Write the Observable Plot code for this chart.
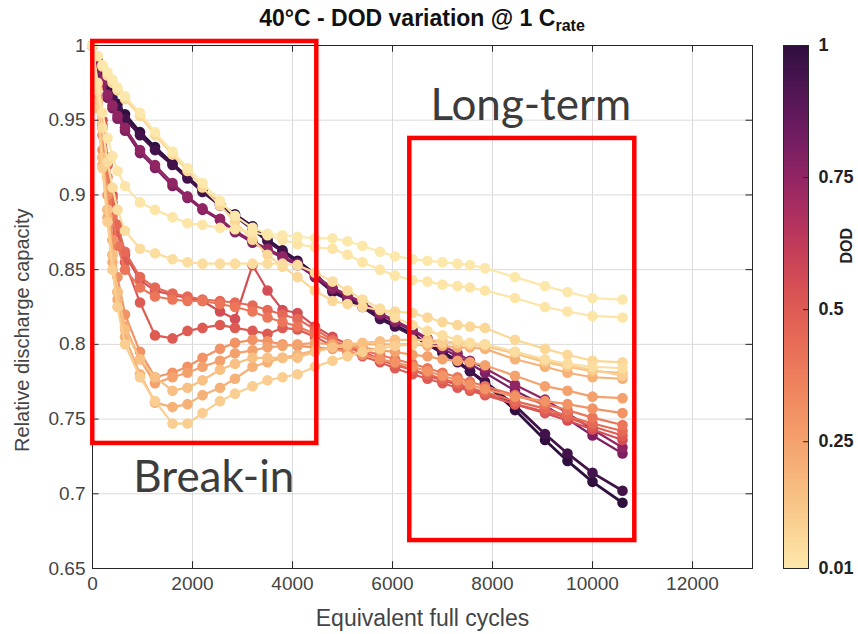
<!DOCTYPE html>
<html><head><meta charset="utf-8">
<script src="https://cdn.jsdelivr.net/npm/d3@7"></script>
<script src="https://cdn.jsdelivr.net/npm/@observablehq/plot@0.6"></script>
<style>
body{margin:0;background:#fff;}
#wrap{position:relative;width:858px;height:634px;overflow:hidden;background:#fff;font-family:"Liberation Sans",Arial,sans-serif;}
#title{position:absolute;left:92px;width:660px;top:5px;text-align:center;font-weight:bold;font-size:23px;color:#111;white-space:nowrap;}
#title sub{font-size:16px;vertical-align:-5px;line-height:0;}
#main{position:absolute;left:0;top:0;}
#cbar{position:absolute;left:770px;top:0;}
</style></head><body>
<div id="wrap">
<div id="main"></div>
<div id="cbar"></div>
<div id="title">40°C - DOD variation @ 1 C<sub>rate</sub></div>
</div>
<script>
// ---- data ----
const efc = [0, 100, 200, 300, 400, 500, 650, 950, 1250, 1600, 1900, 2200, 2550, 2850, 3200, 3500, 3800, 4100, 4450, 4800, 5100, 5400, 5750, 6050, 6400, 6700, 7000, 7300, 7550, 7850, 8450, 9050, 9500, 10000, 10600];

const dod100 = [1.000, 0.990, 0.982, 0.975, 0.968, 0.961, 0.954, 0.942, 0.932, 0.921, 0.912, 0.903, 0.894, 0.887, 0.879, 0.870, 0.863, 0.856, 0.847, 0.836, 0.831, 0.826, 0.818, 0.813, 0.807, 0.800, 0.795, 0.789, 0.782, 0.774, 0.756, 0.736, 0.722, 0.708, 0.694];
const dod95 = [1.000, 0.989, 0.980, 0.972, 0.965, 0.958, 0.951, 0.940, 0.930, 0.920, 0.911, 0.902, 0.893, 0.886, 0.877, 0.869, 0.862, 0.855, 0.845, 0.835, 0.830, 0.825, 0.817, 0.812, 0.806, 0.800, 0.794, 0.788, 0.782, 0.775, 0.759, 0.740, 0.727, 0.714, 0.702];
const dod80 = [1.000, 0.984, 0.974, 0.965, 0.958, 0.951, 0.943, 0.928, 0.918, 0.906, 0.898, 0.890, 0.883, 0.875, 0.868, 0.863, 0.858, 0.853, 0.845, 0.837, 0.832, 0.827, 0.820, 0.815, 0.809, 0.803, 0.797, 0.792, 0.787, 0.781, 0.769, 0.759, 0.750, 0.739, 0.727];
const dod75 = [1.000, 0.986, 0.976, 0.967, 0.960, 0.953, 0.945, 0.930, 0.920, 0.908, 0.899, 0.891, 0.884, 0.876, 0.869, 0.864, 0.859, 0.854, 0.846, 0.838, 0.833, 0.828, 0.821, 0.816, 0.810, 0.804, 0.799, 0.794, 0.789, 0.784, 0.773, 0.763, 0.754, 0.743, 0.731];
const dod55 = [1.000, 0.975, 0.950, 0.925, 0.900, 0.878, 0.860, 0.843, 0.836, 0.833, 0.831, 0.829, 0.822, 0.817, 0.853, 0.836, 0.823, 0.821, 0.812, 0.805, 0.800, 0.795, 0.790, 0.786, 0.783, 0.779, 0.776, 0.773, 0.770, 0.767, 0.760, 0.754, 0.749, 0.743, 0.736];
const dod50 = [1.000, 0.974, 0.947, 0.920, 0.895, 0.875, 0.855, 0.828, 0.806, 0.804, 0.809, 0.811, 0.813, 0.811, 0.809, 0.807, 0.811, 0.810, 0.805, 0.799, 0.795, 0.792, 0.788, 0.784, 0.780, 0.777, 0.774, 0.771, 0.769, 0.766, 0.760, 0.755, 0.751, 0.745, 0.739];
const dod45 = [1.000, 0.972, 0.945, 0.920, 0.898, 0.880, 0.862, 0.845, 0.838, 0.834, 0.832, 0.830, 0.829, 0.828, 0.826, 0.823, 0.820, 0.817, 0.810, 0.803, 0.798, 0.794, 0.790, 0.787, 0.783, 0.780, 0.777, 0.774, 0.771, 0.768, 0.762, 0.757, 0.752, 0.747, 0.742];
const dod40 = [1.000, 0.970, 0.940, 0.912, 0.886, 0.866, 0.850, 0.838, 0.832, 0.830, 0.829, 0.829, 0.827, 0.825, 0.822, 0.818, 0.815, 0.812, 0.807, 0.802, 0.799, 0.796, 0.793, 0.790, 0.787, 0.784, 0.781, 0.778, 0.775, 0.772, 0.766, 0.760, 0.756, 0.751, 0.746];
const dod30 = [1.000, 0.965, 0.930, 0.900, 0.870, 0.845, 0.820, 0.795, 0.778, 0.781, 0.785, 0.791, 0.797, 0.801, 0.803, 0.802, 0.800, 0.799, 0.798, 0.797, 0.795, 0.793, 0.790, 0.788, 0.785, 0.782, 0.779, 0.776, 0.773, 0.770, 0.765, 0.762, 0.760, 0.757, 0.754];
const dod25 = [1.000, 0.962, 0.925, 0.890, 0.860, 0.835, 0.812, 0.790, 0.774, 0.778, 0.781, 0.785, 0.789, 0.794, 0.796, 0.798, 0.799, 0.800, 0.801, 0.800, 0.799, 0.798, 0.796, 0.795, 0.793, 0.792, 0.790, 0.789, 0.788, 0.786, 0.779, 0.772, 0.769, 0.765, 0.764];
const dod20 = [1.000, 0.960, 0.920, 0.885, 0.855, 0.830, 0.805, 0.780, 0.761, 0.758, 0.760, 0.766, 0.771, 0.777, 0.785, 0.788, 0.791, 0.793, 0.796, 0.798, 0.799, 0.800, 0.800, 0.800, 0.800, 0.799, 0.799, 0.798, 0.798, 0.797, 0.790, 0.785, 0.781, 0.778, 0.777];
const dod15 = [1.000, 0.962, 0.925, 0.890, 0.860, 0.835, 0.810, 0.790, 0.778, 0.769, 0.771, 0.776, 0.783, 0.787, 0.791, 0.791, 0.791, 0.791, 0.795, 0.798, 0.800, 0.801, 0.802, 0.803, 0.803, 0.803, 0.802, 0.801, 0.800, 0.799, 0.794, 0.788, 0.785, 0.782, 0.781];
const dod10 = [1.000, 0.958, 0.918, 0.882, 0.850, 0.825, 0.800, 0.778, 0.762, 0.747, 0.747, 0.754, 0.762, 0.767, 0.772, 0.776, 0.778, 0.780, 0.785, 0.789, 0.792, 0.795, 0.797, 0.799, 0.800, 0.801, 0.801, 0.801, 0.800, 0.800, 0.795, 0.789, 0.786, 0.783, 0.779];
const dod07 = [1.000, 0.993, 0.986, 0.980, 0.975, 0.970, 0.964, 0.953, 0.940, 0.927, 0.916, 0.905, 0.893, 0.882, 0.870, 0.860, 0.852, 0.845, 0.836, 0.829, 0.827, 0.825, 0.823, 0.822, 0.821, 0.818, 0.815, 0.813, 0.812, 0.811, 0.803, 0.797, 0.793, 0.789, 0.788];
const dod05 = [1.000, 0.970, 0.945, 0.922, 0.905, 0.890, 0.876, 0.864, 0.861, 0.857, 0.855, 0.854, 0.854, 0.854, 0.854, 0.854, 0.854, 0.853, 0.848, 0.842, 0.836, 0.830, 0.824, 0.818, 0.813, 0.809, 0.806, 0.803, 0.801, 0.800, 0.795, 0.790, 0.787, 0.785, 0.784];
const dod02 = [1.000, 0.975, 0.955, 0.938, 0.926, 0.916, 0.906, 0.895, 0.890, 0.885, 0.881, 0.880, 0.878, 0.877, 0.875, 0.873, 0.870, 0.867, 0.865, 0.864, 0.860, 0.855, 0.850, 0.846, 0.843, 0.842, 0.840, 0.839, 0.838, 0.836, 0.831, 0.825, 0.822, 0.819, 0.818];
const dod01 = [1.000, 0.993, 0.987, 0.982, 0.977, 0.972, 0.966, 0.955, 0.942, 0.929, 0.918, 0.908, 0.896, 0.886, 0.878, 0.874, 0.873, 0.872, 0.871, 0.871, 0.869, 0.866, 0.862, 0.859, 0.857, 0.856, 0.855, 0.854, 0.853, 0.851, 0.845, 0.839, 0.835, 0.831, 0.830];

const dodLevels = [1, 0.95, 0.8, 0.75, 0.55, 0.5, 0.45, 0.4, 0.3, 0.25, 0.2, 0.15, 0.1, 0.07, 0.05, 0.02, 0.01];
const capacities = [dod100, dod95, dod80, dod75, dod55, dod50, dod45, dod40, dod30, dod25, dod20, dod15, dod10, dod07, dod05, dod02, dod01];

const xTicks = [0, 2000, 4000, 6000, 8000, 10000, 12000];
const yTicks = [0.65, 0.7, 0.75, 0.8, 0.85, 0.9, 0.95, 1];
const cbTicks = [0.01, 0.25, 0.5, 0.75, 1];
const cbLabels = ["0.01", "0.25", "0.5", "0.75", "1"];

const boxes = [
  {x1: 6, x2: 4486, y1: 0.7337, y2: 1.0027},
  {x1: 6346, x2: 10846, y1: 0.6687, y2: 0.9378}
];
const notes = [
  {x: 2426, y: 0.7105, text: "Break-in"},
  {x: 8766, y: 0.9598, text: "Long-term"}
];

// colour map (light cream -> orange -> red -> magenta -> dark purple)
const mapStops = ["#fde8ab", "#f9cc8c", "#f6ae74", "#f29163", "#eb7459", "#df5a52", "#c83f58", "#a42a62", "#7c1e65", "#55175a", "#2e0f3d"];
const cmap = d3.interpolateRgbBasis(mapStops);
const colorScale = {type: "linear", domain: [0.01, 1], interpolate: () => cmap};

// ---- main chart ----
const seriesMarks = [];
dodLevels.forEach((dod, i) => {
  const rows = efc.map((x, j) => ({x, y: capacities[i][j], dod}));
  const sw = dod >= 0.9 ? 2.8 : 2.2;
  seriesMarks.push(Plot.line(rows, {x: "x", y: "y", stroke: "dod", strokeWidth: sw}));
  seriesMarks.push(Plot.dot(rows, {x: "x", y: "y", fill: "dod", r: 5.3, stroke: "none"}));
});

const main = Plot.plot({
  width: 770, height: 634,
  marginLeft: 92, marginRight: 18, marginTop: 45, marginBottom: 66,
  x: {domain: [0, 13200]},
  y: {domain: [0.65, 1]},
  color: colorScale,
  style: {fontFamily: "'Liberation Sans', Arial, sans-serif", fontSize: "19px", color: "#333", background: "white"},
  marks: [
    Plot.ruleX(xTicks, {stroke: "#dadada", strokeWidth: 1}),
    Plot.ruleY(yTicks, {stroke: "#dadada", strokeWidth: 1}),
    ...seriesMarks,
    Plot.ruleY(yTicks, {x1: 0, x2: 130, stroke: "#262626"}),
    Plot.ruleY(yTicks, {x1: 13070, x2: 13200, stroke: "#262626"}),
    Plot.ruleX(xTicks, {y1: 0.65, y2: 0.6545, stroke: "#262626"}),
    Plot.ruleX(xTicks, {y1: 0.9955, y2: 1, stroke: "#262626"}),
    Plot.frame({stroke: "#262626", strokeWidth: 1}),
    Plot.axisX(xTicks, {tickSize: 0, tickPadding: 8, label: null, tickFormat: d => String(d), fontSize: 19, fill: "#444"}),
    Plot.axisY(yTicks, {tickSize: 0, tickPadding: 7, label: null, tickFormat: d => String(d), fontSize: 19, fill: "#444"}),
    Plot.text(["Equivalent full cycles"], {frameAnchor: "bottom", dy: 57, fontSize: 23, fill: "#444"}),
    Plot.text(["Relative discharge capacity"], {x: 0, y: 0.8095, rotate: -90, dx: -70, textAnchor: "middle", fontSize: 20, fill: "#444"}),
    Plot.rect(boxes, {x1: "x1", x2: "x2", y1: "y1", y2: "y2", fill: "none", stroke: "#ff0000", strokeWidth: 4.5}),
    Plot.text(notes, {x: "x", y: "y", text: "text", fontSize: 44, fill: "#3c3c3c", fontFamily: "Lato, 'Open Sans', sans-serif"})
  ]
});
document.getElementById("main").appendChild(main);

// ---- colour bar ----
const nSteps = 200;
const steps = d3.range(nSteps).map(i => 0.01 + 0.99 * i / nSteps);
const stepH = 0.99 / nSteps;
const cbar = Plot.plot({
  width: 88, height: 634,
  marginLeft: 13, marginRight: 50, marginTop: 45, marginBottom: 66,
  x: {domain: [0, 1], axis: null},
  y: {domain: [0.01, 1], axis: null},
  color: colorScale,
  style: {fontFamily: "'Liberation Sans', Arial, sans-serif", background: "transparent"},
  marks: [
    Plot.rect(steps, {x1: 0, x2: 1, y1: d => d, y2: d => Math.min(1, d + stepH * 1.3), fill: d => d + stepH / 2}),
    Plot.frame({stroke: "#262626", strokeWidth: 1}),
    Plot.ruleY(cbTicks.slice(1, -1), {x1: 0.8, x2: 1, stroke: "#262626"}),
    Plot.text(cbTicks, {x: 1, y: d => d, text: (d, i) => cbLabels[i], dx: 10, textAnchor: "start", fontWeight: "bold", fontSize: 18, fill: "#222"}),
    Plot.text(["DOD"], {x: 1, y: 0.621, dx: 38, rotate: -90, fontWeight: "bold", fontSize: 16, fill: "#222"})
  ]
});
document.getElementById("cbar").appendChild(cbar);
</script>
</body></html>
